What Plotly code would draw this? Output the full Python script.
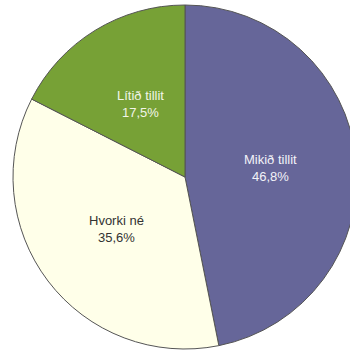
import math
import plotly.graph_objects as go

labels = ["Mikið tillit", "Hvorki né", "Lítið tillit"]
values = [46.8, 35.6, 17.5]
colors = ["#666699", "#FFFFE9", "#77A136"]
text_colors = ["#F2F2F8", "#333333", "#F2F5E8"]

pct_text = [f"{v:.1f}%".replace(".", ",") for v in values]

W, H = 358, 354
cx, cy, r = 185, 177, 172
label_r = 0.5

fig = go.Figure(go.Pie(
    labels=labels,
    values=values,
    textinfo="none",
    sort=False,
    direction="clockwise",
    rotation=0,
    domain=dict(x=[(cx - r) / W, (cx + r) / W], y=[(H - cy - r) / H, (H - cy + r) / H]),
    marker=dict(colors=colors, line=dict(color="#555555", width=1)),
    hoverinfo="skip",
    showlegend=False,
))

total = sum(values)
cum = 0.0
for lab, v, t, tc in zip(labels, values, pct_text, text_colors):
    mid = (cum + v / 2) / total * 2 * math.pi
    cum += v
    px = cx + label_r * r * math.sin(mid)
    py = cy - label_r * r * math.cos(mid)
    fig.add_annotation(
        x=px / W, y=1 - py / H, xref="paper", yref="paper",
        text=f"{lab}<br>{t}", showarrow=False,
        font=dict(family="Liberation Sans, Arial, sans-serif", size=13, color=tc),
        xanchor="center", yanchor="middle",
    )

fig.update_layout(
    width=W, height=H,
    margin=dict(l=0, r=0, t=0, b=0),
    paper_bgcolor="white",
    plot_bgcolor="white",
)

fig.write_html("out.html", config={"displayModeBar": False},
               post_script="document.body.style.margin='0';document.body.style.overflow='hidden';")
